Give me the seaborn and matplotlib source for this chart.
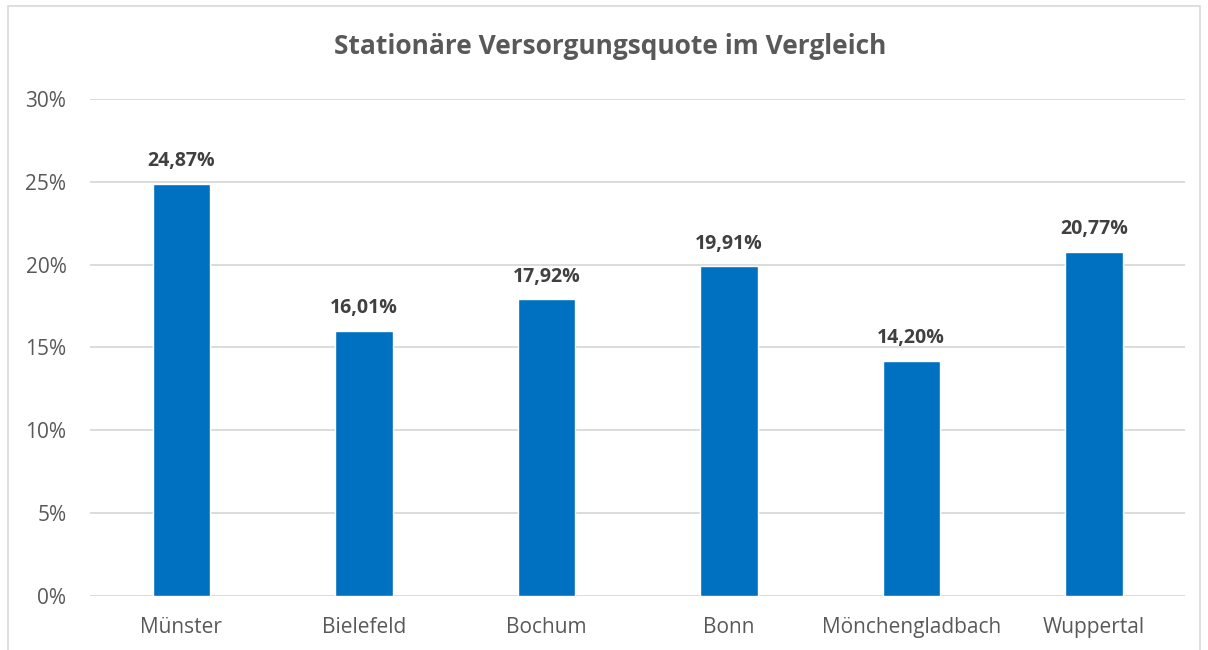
import seaborn as sns
import matplotlib.pyplot as plt
import matplotlib.patches as patches
import pandas as pd

staedte = ["Münster", "Bielefeld", "Bochum", "Bonn", "Mönchengladbach", "Wuppertal"]
quote = [24.87, 16.01, 17.92, 19.91, 14.20, 20.77]
yticks = [0, 5, 10, 15, 20, 25, 30]

df = pd.DataFrame({"Stadt": staedte, "Quote": quote})

sns.set_theme(style="white")
plt.rcParams["font.family"] = ["Open Sans", "DejaVu Sans"]

fig = plt.figure(figsize=(12.08, 6.5), dpi=100)
ax = fig.add_axes([0.0745, 0.0831, 0.9065, 0.7646])

sns.barplot(data=df, x="Stadt", y="Quote", color="#0070C0", width=0.315,
            saturation=1, ax=ax, zorder=3)

ax.set_ylim(0, 30)
ax.set_xlim(-0.5, len(staedte) - 0.5)
ax.set_yticks(yticks)
ax.set_yticklabels([f"{t}%" for t in yticks])
ax.yaxis.grid(True, color="#D9D9D9", linewidth=1.3, zorder=0)
ax.tick_params(axis="both", length=0, labelsize=15, colors="#595959")
ax.tick_params(axis="y", pad=17)
ax.tick_params(axis="x", pad=15)
ax.set_xlabel("")
ax.set_ylabel("")
for s in ax.spines.values():
    s.set_visible(False)

for i, v in enumerate(quote):
    ax.annotate(f"{v:.2f}%".replace(".", ","), (i, v), xytext=(0, 9),
                textcoords="offset points", ha="center", va="bottom",
                fontsize=14, fontweight="bold", color="#404040")

fig.text(0.505, 0.928, "Stationäre Versorgungsquote im Vergleich", ha="center",
         va="center", fontsize=19, fontweight="bold", color="#595959")

fig.patches.append(patches.Rectangle((8 / 1208, -0.02), 1192 / 1208, 1 - 6 / 650 + 0.02,
                                     transform=fig.transFigure, fill=False,
                                     edgecolor="#D9D9D9", linewidth=1.2))

fig.savefig("out.png", dpi=100)
